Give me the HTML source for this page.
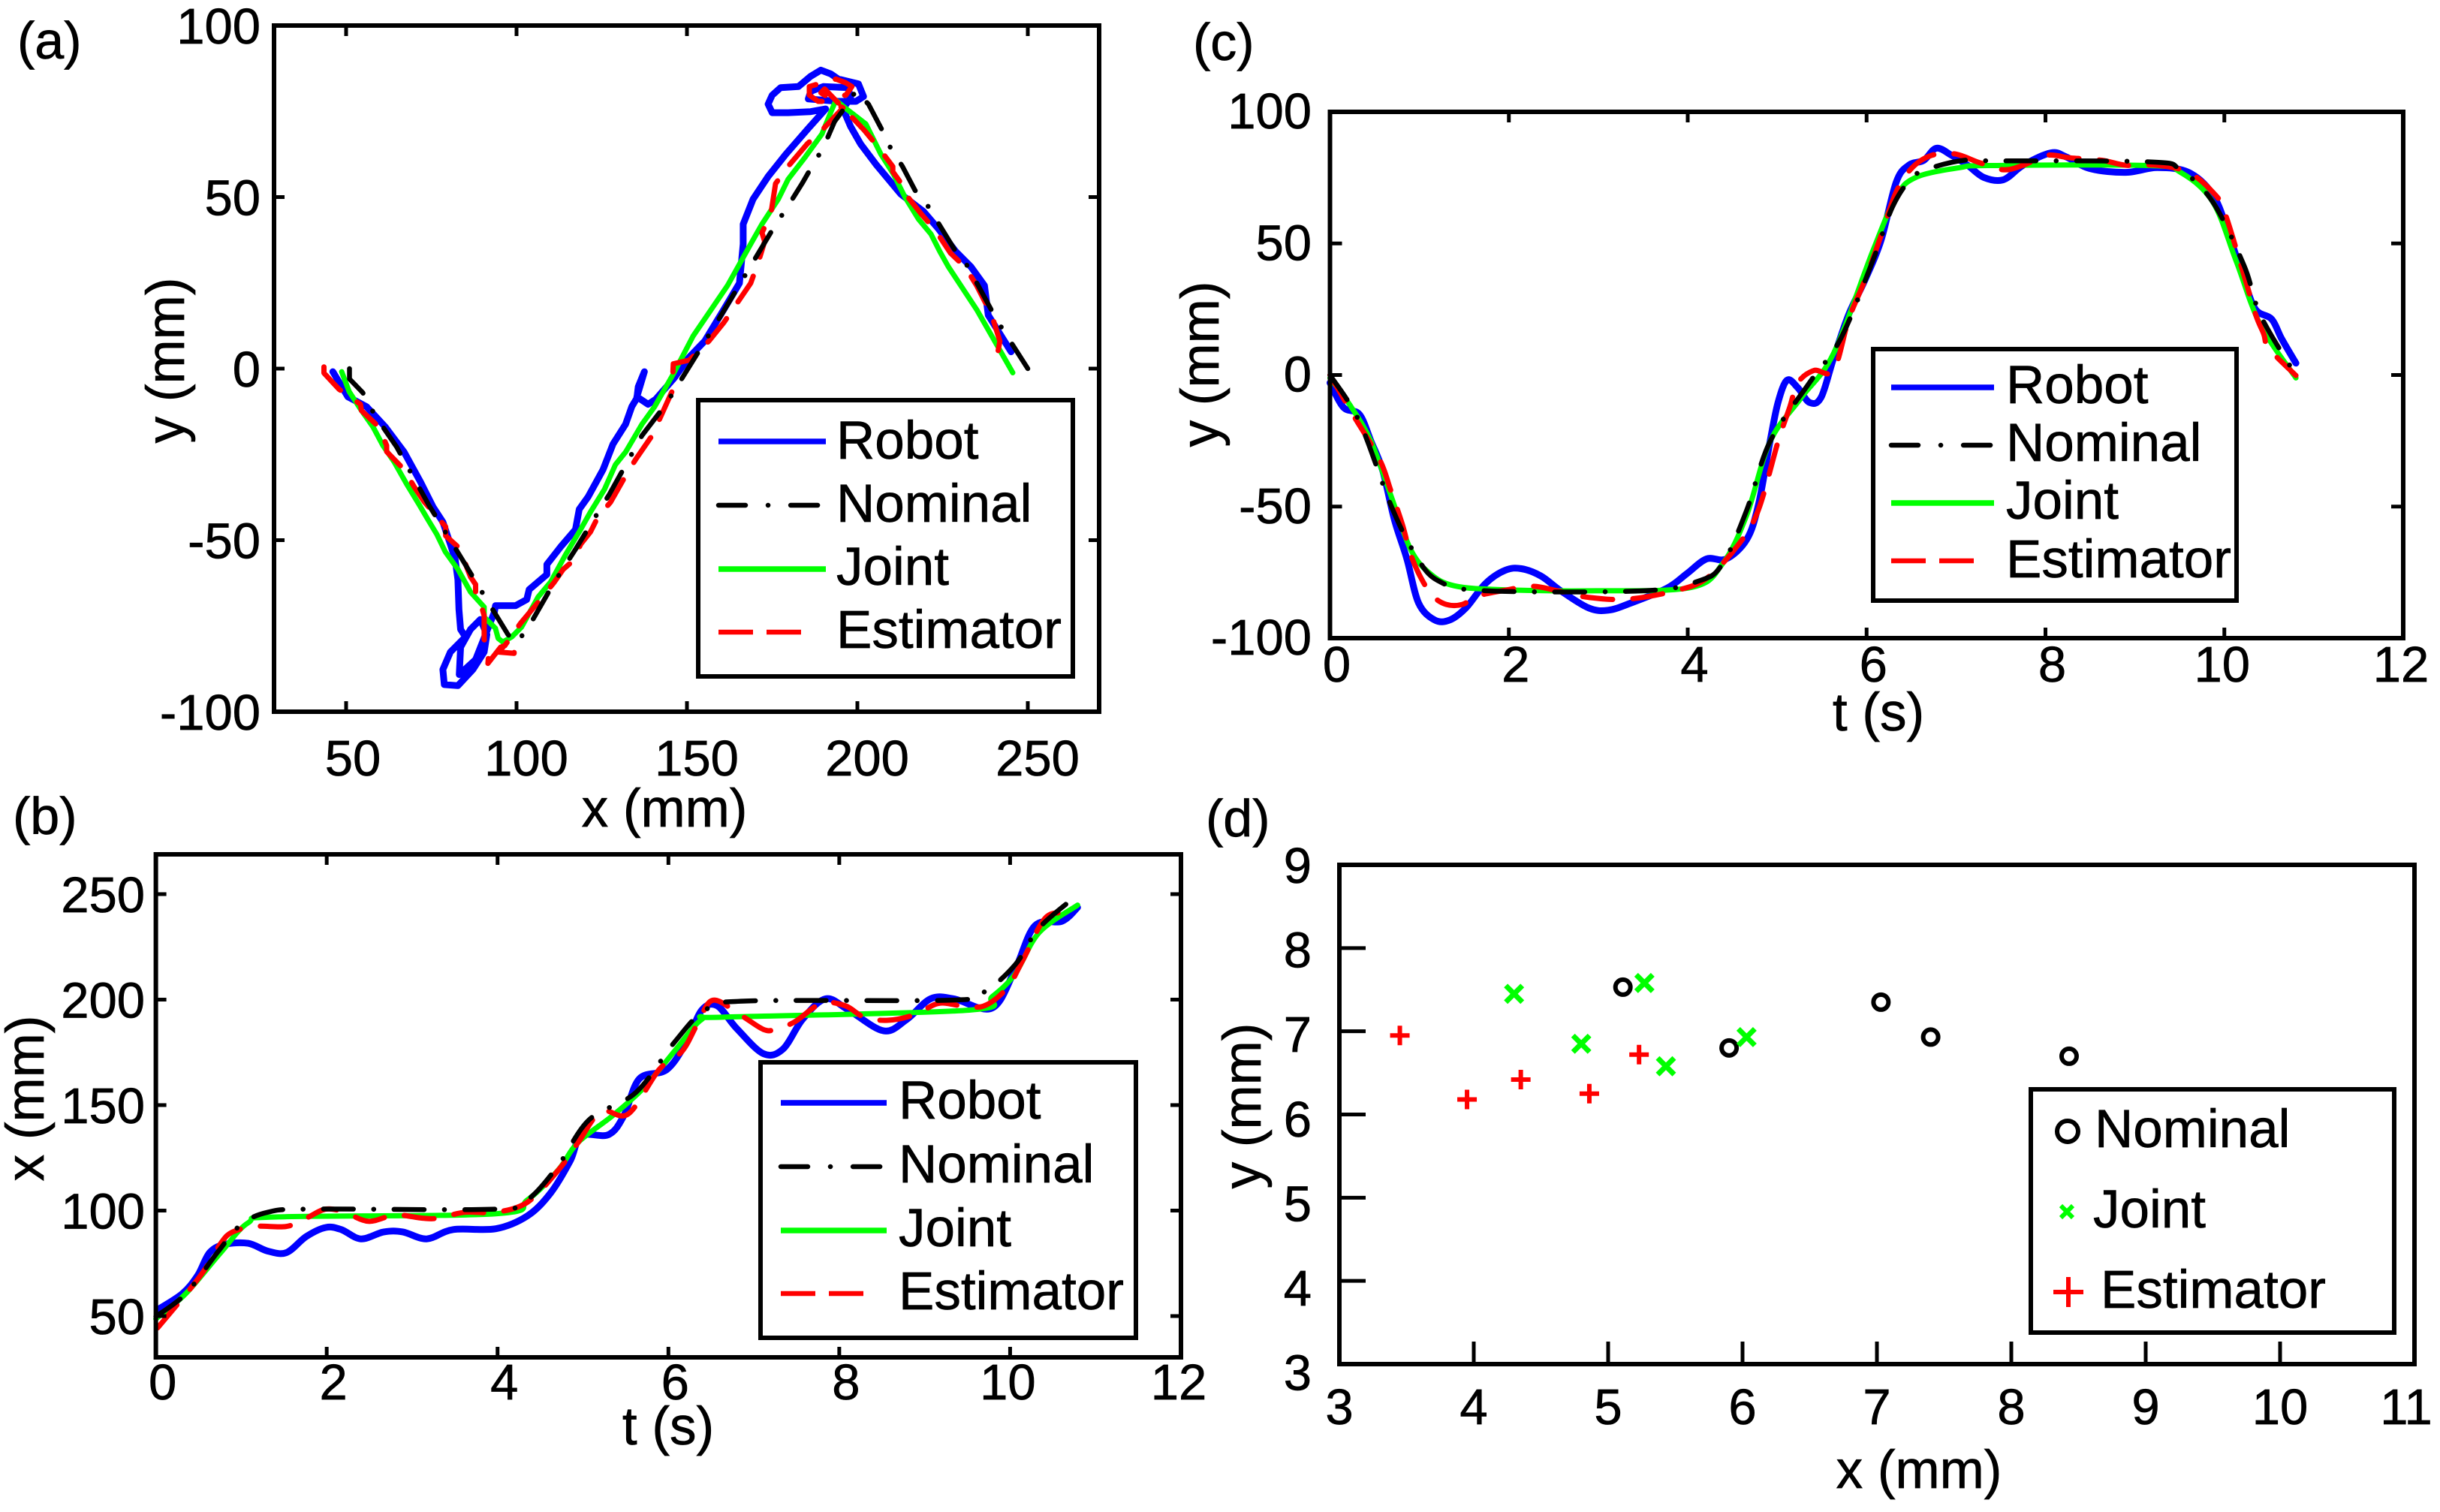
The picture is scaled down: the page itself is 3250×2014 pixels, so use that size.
<!DOCTYPE html>
<html lang="en">
<head>
<meta charset="utf-8">
<title>Robot trajectory tracking charts</title>
<style>
html,body{margin:0;padding:0;background:#fff;}
svg{display:block;}
text{font-family:"Liberation Sans",Arial,sans-serif;fill:#000;stroke:#000;stroke-width:0.7;}
.frame{fill:none;stroke:#000;stroke-width:6;}
.leg{fill:#fff;stroke:#000;stroke-width:6;}
.t{font-size:71px;}
.p{font-size:70px;}
.lr{stroke:#0000ff;stroke-width:7.5;fill:none;}
.ln{stroke:#000;stroke-width:6.5;fill:none;stroke-linecap:round;stroke-dasharray:36 30 0.1 30;}
.lj{stroke:#00ff00;stroke-width:7.5;fill:none;}
.le{stroke:#ff0000;stroke-width:6.5;fill:none;stroke-dasharray:46 18;}
</style>
</head>
<body>
<svg id="chart" xmlns="http://www.w3.org/2000/svg" width="3250" height="2014" viewBox="0 0 3250 2014">
<rect x="0" y="0" width="3250" height="2014" fill="#fff"/>

<text class="p" x="23" y="78">(a)</text>
<text class="p" x="17" y="1111">(b)</text>
<text class="p" x="1589" y="80">(c)</text>
<text class="p" x="1606" y="1114">(d)</text>

<g id="panel-a"></g>
<g id="panel-b"></g>
<g id="panel-c"></g>
<g id="panel-d"></g>

<text class="t" x="885" y="1101" text-anchor="middle">x (mm)</text>
<text class="t" transform="translate(245,480) rotate(-90)" text-anchor="middle">y (mm)</text>
<text class="t" x="890" y="1924" text-anchor="middle">t (s)</text>
<text class="t" transform="translate(58,1463) rotate(-90)" text-anchor="middle">x (mm)</text>
<text class="t" x="2502" y="973" text-anchor="middle">t (s)</text>
<text class="t" transform="translate(1623,485) rotate(-90)" text-anchor="middle">y (mm)</text>
<text class="t" x="2556" y="1982" text-anchor="middle">x (mm)</text>
<text class="t" transform="translate(1679,1473) rotate(-90)" text-anchor="middle">y (mm)</text>

<g>
  <rect class="leg" x="930" y="533" width="499" height="368"/>
  <line class="lr" x1="957" y1="588" x2="1100" y2="588"/>
  <text class="t" x="1114" y="611">Robot</text>
  <line class="ln" x1="957" y1="673" x2="1100" y2="673"/>
  <text class="t" x="1114" y="695">Nominal</text>
  <line class="lj" x1="957" y1="758" x2="1100" y2="758"/>
  <text class="t" x="1114" y="779">Joint</text>
  <line class="le" x1="957" y1="842" x2="1075" y2="842"/>
  <text class="t" x="1114" y="863">Estimator</text>
</g>

<g>
  <rect class="leg" x="1013" y="1415" width="500" height="367"/>
  <line class="lr" x1="1040" y1="1469" x2="1181" y2="1469"/>
  <text class="t" x="1197" y="1490">Robot</text>
  <line class="ln" x1="1040" y1="1554" x2="1181" y2="1554"/>
  <text class="t" x="1197" y="1575">Nominal</text>
  <line class="lj" x1="1040" y1="1639" x2="1181" y2="1639"/>
  <text class="t" x="1197" y="1660">Joint</text>
  <line class="le" x1="1040" y1="1723" x2="1158" y2="1723"/>
  <text class="t" x="1197" y="1744">Estimator</text>
</g>

<g>
  <rect class="leg" x="2495" y="465" width="484" height="335"/>
  <line class="lr" x1="2519" y1="516" x2="2656" y2="516"/>
  <text class="t" x="2672" y="537">Robot</text>
  <line class="ln" x1="2519" y1="593" x2="2656" y2="593"/>
  <text class="t" x="2672" y="614">Nominal</text>
  <line class="lj" x1="2519" y1="670" x2="2656" y2="670"/>
  <text class="t" x="2672" y="691">Joint</text>
  <line class="le" x1="2519" y1="747" x2="2637" y2="747"/>
  <text class="t" x="2672" y="769">Estimator</text>
</g>

<g>
  <rect class="leg" x="2705" y="1451" width="484" height="324"/>
  <circle cx="2754" cy="1507" r="14" fill="none" stroke="#000" stroke-width="6"/>
  <text class="t" x="2790" y="1528">Nominal</text>
  <path d="M2745 1606L2761 1622M2761 1606L2745 1622" fill="none" stroke="#00ff00" stroke-width="6"/>
  <text class="t" x="2788" y="1635">Joint</text>
  <path d="M2735 1721H2775M2755 1701V1741" fill="none" stroke="#ff0000" stroke-width="6"/>
  <text class="t" x="2798" y="1742">Estimator</text>
</g>
</svg>

<script>
// ---- Panel (a): y vs x trajectory ----
const aRobotX=[46.1,50.5,56,61.5,67,71.8,75.5,78.4,80.6,82,82.8,83.1,83.6,85,80.6,78.4,78.8,82.8,87.2,90.5,91.3,89.4,86.5,83.6,83.2,88,93.5,93.8,99.7,103,103.7,108.9,108.9,112.9,117.3,118.4,121,125.4,128.3,132,133.8,135.3,135.7,137.5,135.3,138.6,140.8,146.3,150.7,155.2,160.8,165.4,166.5,166.5,169.4,173.8,179,185.6,190.7,186.3,179.7,175,173.8,175,177.5,182.7,186.3,189.3,192.2,194.4,200.3,201.8,199.6,194.4,185.6,186.3,190,197.3,198,195.8,198,201,205.4,212.7,219.4,223.8,228.9,233.3,237.3,238.4,245.1];
const aRobotY=[-0.9,-8.2,-11.1,-17,-24.3,-33,-40.3,-44.7,-51.2,-55.6,-61.5,-70.2,-76,-78.2,-82.6,-87.7,-92.1,-92.4,-87.7,-82.6,-77.5,-73.1,-76,-81.2,-89.2,-84.8,-71,-69.1,-69.1,-67.3,-64.4,-60,-57.1,-52,-46.9,-41,-37.4,-29.4,-22,-16.2,-11.1,-8.6,-5.3,-0.9,-8.2,-10.4,-9,-2.7,3.4,8,17.2,24.9,36.3,42.1,49.4,56,62.5,70,75.7,74.9,74.6,74.6,77.1,79.7,81.9,82.2,85.2,87,85.9,84.4,83,79.3,77.9,77.9,78.6,80.8,82.2,81.9,79,75.7,70.6,65.4,59.6,50.9,45.8,40.7,34.1,29.7,24.2,15.6,4.9];
const aNominalX=[51,51,54.9,58.4,64.8,74.4,84.3,90.4,97.5,100,103.7,111,117.3,122,127.2,132.4,136.8,143.8,160,176,179.4,183.8,186.7,190,193.3,197,199.6,203.3,207,209.9,213.2,216.9,221,224,228.7,232.4,241,250];
const aNominalY=[0,-3,-7,-13.5,-22.8,-40,-56,-66,-77.5,-80,-75,-62.4,-52.7,-45,-36.7,-27.4,-19.5,-10.4,15.5,42,47,54,59,64.4,72,77,81,77,70,64,59,52,47,42,34.4,29.8,14,0];
const aJointX=[48.7,50.9,54.3,57.9,60.8,64.1,67.8,71.4,74,76.6,79.1,82.8,86.5,90.5,90.5,93.8,94.6,96,98.6,101.5,106.3,110,114.4,118.4,121.7,125.8,129,132,134.2,136.8,140.5,146,151.8,161.9,168.7,172,176.8,179.7,184.8,189.6,192.6,193.7,197.3,202.5,204.7,206.9,210.6,213.9,217.9,221.6,224.2,226.7,235,245.6];
const aJointY=[-0.9,-6.7,-11.9,-17,-22.4,-27.2,-33.7,-39.6,-44,-48.3,-53.4,-58.5,-65.1,-69.5,-72.4,-75.7,-78.6,-79.7,-78.2,-75.3,-66.6,-62.2,-54.2,-47.6,-41.8,-35.2,-28,-24.3,-20.6,-16.2,-11.1,-1.6,9.5,24.2,36.3,42.1,49.4,55.2,61.8,68.4,75.7,78.2,75.3,71.3,66.9,62.5,56.7,50.1,43.6,39.2,34.1,29.7,17.2,-1.2];
const aEstimatorX=[43.5,43.5,47.9,54.2,54.5,59.6,61.9,61.9,67,70,72.9,79.2,79.2,83.2,86.5,88,88,89,90.5,90.5,92,91.6,95.3,99.3,99.3,94.6,96.8,101.2,107,111.1,113.7,116.6,118.8,121.7,123.9,127.6,132,135,140,142.3,145.6,146,150.7,156.4,160.8,168.7,171,172.8,172,174.6,176,179.3,185.2,189.6,195.8,192.2,188.5,185.9,185.9,191,193.7,196.6,198.4,196.6,191.5,189.3,190.4,195.8,202,206,210.4,210.4,214.1,214.1,218.8,222.9,227.3,231.7,235,239.4,241.8,240.7,243];
const aEstimatorY=[0.5,-1.3,-6,-10.4,-12.2,-17,-22.4,-24.2,-29.4,-34.5,-38.8,-46.1,-48.7,-52.3,-60.7,-62.9,-65.8,-66.9,-72,-79,-81.2,-85.9,-81.2,-79.7,-83,-82.6,-80.4,-74.2,-67.3,-62.2,-58.5,-56,-51.2,-47.6,-43.2,-38.9,-31.2,-26.4,-19.2,-14,-6.7,1.4,2.5,8,13.4,24.9,31.2,37.1,39.6,45,53.9,58.5,65.4,69.5,76,77.9,77.9,79.7,82.2,83.7,84.4,83.3,82.2,79.7,79,80.4,81.5,76,69.5,64.7,58.9,57.4,52.3,50.9,45,40.3,33.7,29.5,24.2,15.6,8,1.9,1.6];
const aXTicks=[50,100,150,200,250];
const aYTicks=[100,50,0,-50,-100];

// ---- Panel (b): x vs t ----
const bRobotT=[0.02,0.31,0.49,0.63,0.81,1.08,1.31,1.53,1.76,1.99,2.17,2.4,2.67,2.89,3.17,3.48,3.98,4.35,4.62,4.85,4.98,5.3,5.48,5.66,5.98,6.21,6.39,6.57,6.8,7.11,7.34,7.57,7.84,8.11,8.52,8.79,9.07,9.34,9.79,10.06,10.29,10.61,10.79];
const bRobotV=[53,60.6,69.3,80.1,84,84.5,80.8,80.1,87.7,92,91,86.6,89.9,89.9,86.6,91,91.4,97.5,108.3,123.5,135.4,136,145.1,162.5,166.8,179.8,195,197.1,186.3,174.4,176.5,190.6,200.4,195,185.2,190.6,200.4,200.4,196,214.5,235,237.2,243.7];
const bNominalT=[0,0.35,0.72,0.99,1.31,1.81,3.99,4.35,4.71,5.07,5.62,6.07,6.43,6.88,9.34,9.7,10.06,10.34,10.79];
const bNominalV=[49.8,60.6,80.1,93.1,99.2,100.7,100.7,105.1,121.3,143,156,179.8,195,199.3,199.8,203.7,216.6,234,249.6];
const bJointT=[0,0.35,0.76,1.08,1.44,3.98,4.35,4.71,4.94,5.35,5.71,6.07,6.39,6.66,9.52,9.79,10.06,10.34,10.79];
const bJointV=[48.7,60.6,80.1,94.2,97,98.5,105.1,119.2,132.2,145.1,158.1,175.5,190.6,191.7,195,201.4,212.3,231.8,244.8];
const bEstimatorT=[0.02,0.4,0.58,0.76,0.9,1.17,1.53,1.76,1.99,2.21,2.49,2.8,3.12,3.3,3.62,3.98,4.35,4.71,4.94,5.21,5.53,5.89,6.16,6.34,6.52,6.84,7.11,7.25,7.48,7.79,8.07,8.29,8.57,8.88,9.16,9.43,9.7,9.97,10.15,10.43,10.74];
const bEstimatorV=[44.4,62.8,72.5,84.5,89.9,92.5,92.5,96.4,100.7,99.2,94.9,97.9,96.4,96.4,99.2,99.2,104,119.1,132.1,146.9,145.8,166.8,175.5,188.5,199.7,192.8,185.9,185.9,189.5,198.2,197.1,191.7,190.2,192.8,198.2,197.1,197.1,205.8,218.8,239.4,240];
const bXTicks=[0,2,4,6,8,10,12];
const bYTicks=[250,200,150,100,50];

// ---- Panel (c): y vs t ----
const cRobotT=[0,0.15,0.33,0.46,0.59,0.72,0.86,0.99,1.17,1.34,1.52,1.74,1.96,2.14,2.36,2.58,2.89,3.11,3.37,3.77,3.99,4.21,4.43,4.66,4.79,4.92,5.01,5.11,5.23,5.36,5.49,5.63,5.8,5.98,6.16,6.33,6.47,6.64,6.78,6.95,7.13,7.31,7.53,7.75,8.06,8.23,8.5,8.9,9.25,9.6,9.87,10.04,10.22,10.35,10.53,10.64,10.8];
const cRobotV=[-3,-12.3,-15,-25.3,-36.4,-55,-69.9,-86.6,-93.1,-93.1,-88.5,-79.2,-74.2,-73.6,-76.4,-82,-88.5,-89.4,-86.6,-81,-75.5,-69.9,-69.9,-62.5,-49.4,-25.3,-10.4,-2,-4.8,-10.4,-8.6,6.3,23,36,51,73.2,79.7,81.6,86.2,83.5,79.7,75.1,74.2,79.7,84.4,82.9,78.4,77,78.8,77,68.6,54.6,36,24.9,21.2,13.8,4.5];
const cNominalT=[0,0.33,0.68,0.95,1.21,1.74,3.51,4.13,4.39,4.66,4.92,5.36,5.71,6.07,6.29,6.51,6.73,7.09,7.39,9.16,9.51,9.87,10.22,10.4,10.75];
const cNominalV=[0,-17.8,-49.4,-68,-78.2,-82,-82,-78.2,-71.7,-51.3,-25.3,-3,13.8,43.5,63.9,75.1,78.8,81.6,81.4,81,77.9,65.8,41.6,23,2.6];
const cJointT=[0,0.24,0.46,0.68,0.9,1.12,1.39,1.92,2.98,4.04,4.39,4.66,4.92,5.27,5.63,6.07,6.33,6.55,7.04,7.39,9.16,9.51,9.87,10.13,10.4,10.8];
const cJointV=[-1.1,-12.3,-25.3,-45.7,-66.2,-75.5,-80.1,-81.6,-82,-80.7,-71.7,-53.2,-25.3,-8.6,8.2,47.2,67.7,75.1,78.8,79.6,79.6,77,65.8,43.5,19.3,-1.1];
const cEstimatorT=[0,0.24,0.55,0.68,0.81,0.9,1.02,1.15,1.3,1.48,1.65,1.96,2.27,2.54,2.89,3.33,3.86,4.21,4.57,4.79,5.01,5.14,5.23,5.41,5.63,5.8,5.98,6.16,6.33,6.51,6.73,6.99,7.26,7.53,7.75,8.02,8.28,8.63,8.9,9.25,9.6,9.87,10,10.22,10.35,10.44,10.5,10.8];
const cEstimatorV=[0,-14.1,-31.8,-43.9,-56.9,-68,-77.3,-84,-87.2,-87.2,-84,-81.8,-80.3,-82,-84.5,-85.2,-82,-77.3,-64.3,-51.3,-25.3,-12.3,-3,1.7,1.7,21.2,36,52.8,69.5,78.8,83.5,84,80.7,78,79.7,83.5,82.5,81.6,79.7,79.7,77,69.5,62.1,37.9,23,15.6,10,-0.2];
const cXTicks=[0,2,4,6,8,10,12];
const cYTicks=[100,50,0,-50,-100];

// ---- Panel (d): final position scatter ----
const dNominalX=[5.11,5.9,7.03,7.4,8.43];
const dNominalY=[7.53,6.8,7.35,6.93,6.7];
const dJointX=[4.3,5.27,4.8,6.03,5.43];
const dJointY=[7.45,7.58,6.85,6.93,6.58];
const dEstimatorX=[3.45,3.95,4.35,4.86,5.23];
const dEstimatorY=[6.95,6.18,6.42,6.25,6.72];
const dXTicks=[3,4,5,6,7,8,9,10,11];
const dYTicks=[9,8,7,6,5,4,3];

const SVGNS='http://www.w3.org/2000/svg';
function linear(d0,d1,p0,p1){return function(v){return p0+(v-d0)*(p1-p0)/(d1-d0);};}
function make(parent,tag){const el=document.createElementNS(SVGNS,tag);parent.appendChild(el);return el;}
function tickNudge(s){return s.length===1?9:(s.length===2?(s==='50'?9:-3):13);}

function drawFrame(g,key,box){
  const r=make(g,'rect');
  
  
  r.setAttribute('class','frame');
  r.setAttribute('x',box.l);r.setAttribute('y',box.t);
  r.setAttribute('width',box.r-box.l);r.setAttribute('height',box.b-box.t);
}

function drawTickMark(g,x1,y1,x2,y2){
  const l=make(g,'line');
  
  
  l.setAttribute('x1',x1);l.setAttribute('y1',y1);l.setAttribute('x2',x2);l.setAttribute('y2',y2);
  l.setAttribute('stroke','#000');l.setAttribute('stroke-width',5);
}

function drawXTicks(g,ticks,sx,box,base,len,mirror,nudge){
  ticks.forEach(function(v){
    const x=sx(v);
    if(x>box.l+3&&x<box.r-3){
      drawTickMark(g,x,box.b,x,box.b-len);
      if(mirror){drawTickMark(g,x,box.t,x,box.t+len);}
    }
    const t=make(g,'text');
    
    
    t.setAttribute('x',x+nudge(String(v)));
    t.setAttribute('y',base);
    t.setAttribute('text-anchor','middle');
    t.setAttribute('font-size','67');
    t.textContent=String(v);
  });
}

function drawYTicks(g,ticks,sy,box,right,labelY,len,mirror){
  ticks.forEach(function(v){
    const y=sy(v);
    if(y>box.t+3&&y<box.b-3){
      drawTickMark(g,box.l,y,box.l+len,y);
      if(mirror){drawTickMark(g,box.r,y,box.r-len,y);}
    }
    const t=make(g,'text');
    
    
    t.setAttribute('x',right);
    t.setAttribute('y',labelY(v,y));
    t.setAttribute('text-anchor','end');
    t.setAttribute('font-size','67');
    t.textContent=String(v);
  });
}

function drawLine(g,name,xs,ys,sx,sy,color,width,dash){
  const p=make(g,'polyline');
  
  
  p.setAttribute('points',xs.map(function(v,i){return sx(v).toFixed(1)+','+sy(ys[i]).toFixed(1);}).join(' '));
  p.setAttribute('fill','none');
  p.setAttribute('stroke',color);
  p.setAttribute('stroke-width',width);
  p.setAttribute('stroke-linejoin','round');
  p.setAttribute('stroke-linecap','round');
  if(dash){p.setAttribute('stroke-dasharray',dash);}
}

// Smooth Catmull-Rom curve through the mapped data points, for the time series.
function drawCurve(g,name,xs,ys,sx,sy,color,width,dash){
  const pts=xs.map(function(v,i){return [sx(v),sy(ys[i])];});
  let d='M'+pts[0][0].toFixed(1)+' '+pts[0][1].toFixed(1);
  for(let i=0;i<pts.length-1;i++){
    const p0=pts[i>0?i-1:i],p1=pts[i],p2=pts[i+1],p3=pts[i+2<pts.length?i+2:i+1];
    const c1x=p1[0]+(p2[0]-p0[0])/6,c1y=p1[1]+(p2[1]-p0[1])/6;
    const c2x=p2[0]-(p3[0]-p1[0])/6,c2y=p2[1]-(p3[1]-p1[1])/6;
    d+='C'+c1x.toFixed(1)+' '+c1y.toFixed(1)+' '+c2x.toFixed(1)+' '+c2y.toFixed(1)+' '+p2[0].toFixed(1)+' '+p2[1].toFixed(1);
  }
  const p=make(g,'path');
  
  
  p.setAttribute('d',d);
  p.setAttribute('fill','none');
  p.setAttribute('stroke',color);
  p.setAttribute('stroke-width',width);
  p.setAttribute('stroke-linejoin','round');
  p.setAttribute('stroke-linecap','round');
  if(dash){p.setAttribute('stroke-dasharray',dash);}
}

const NOMINAL_DASH='40 27 0.1 27';
const ESTIMATOR_DASH='40 27';

// Panel a
(function(){
  const g=document.getElementById('panel-a');
  const box={l:365,r:1464,t:34,b:948};
  const sx=linear(50,250,461,1369);
  const sy=linear(100,-100,34,948);
  drawLine(g,'robot-path-a',aRobotX,aRobotY,sx,sy,'#0000ff',9,null);
  drawLine(g,'joint-path-a',aJointX,aJointY,sx,sy,'#00ff00',7,null);
  drawLine(g,'estimator-path-a',aEstimatorX,aEstimatorY,sx,sy,'#ff0000',7,ESTIMATOR_DASH);
  drawLine(g,'nominal-path-a',aNominalX,aNominalY,sx,sy,'#000000',6.5,NOMINAL_DASH);
  drawFrame(g,'a',box);
  drawXTicks(g,aXTicks,sx,box,1033,14,true,tickNudge);
  drawYTicks(g,aYTicks,sy,box,347,function(v,y){return y+24;},14,true);
})();

// Panel b
(function(){
  const g=document.getElementById('panel-b');
  const box={l:207.6,r:1573,t:1138,b:1808};
  const sx=linear(0,12,207.6,1573);
  const sy=linear(250,50,1191,1753);
  drawCurve(g,'robot-curve-b',bRobotT,bRobotV,sx,sy,'#0000ff',9,null);
  drawCurve(g,'joint-curve-b',bJointT,bJointV,sx,sy,'#00ff00',7,null);
  drawCurve(g,'estimator-curve-b',bEstimatorT,bEstimatorV,sx,sy,'#ff0000',7,ESTIMATOR_DASH);
  drawCurve(g,'nominal-curve-b',bNominalT,bNominalV,sx,sy,'#000000',6.5,NOMINAL_DASH);
  drawFrame(g,'b',box);
  drawXTicks(g,bXTicks,sx,box,1864,14,true,tickNudge);
  drawYTicks(g,bYTicks,sy,box,193,function(v,y){return y+24;},14,true);
})();

// Panel c
(function(){
  const g=document.getElementById('panel-c');
  const box={l:1771.5,r:3201,t:149,b:850};
  const sx=linear(0,12,1771.5,3201);
  const sy=linear(100,-100,149,850);
  drawCurve(g,'robot-curve-c',cRobotT,cRobotV,sx,sy,'#0000ff',9,null);
  drawCurve(g,'joint-curve-c',cJointT,cJointV,sx,sy,'#00ff00',7,null);
  drawCurve(g,'estimator-curve-c',cEstimatorT,cEstimatorV,sx,sy,'#ff0000',7,ESTIMATOR_DASH);
  drawCurve(g,'nominal-curve-c',cNominalT,cNominalV,sx,sy,'#000000',6.5,NOMINAL_DASH);
  drawFrame(g,'c',box);
  drawXTicks(g,cXTicks,sx,box,908,14,true,tickNudge);
  drawYTicks(g,cYTicks,sy,box,1747,function(v,y){return y+22;},16,true);
})();

// Panel d
(function(){
  const g=document.getElementById('panel-d');
  const box={l:1784,r:3216,t:1152,b:1817};
  const sx=linear(3,11,1784,3216);
  const sy=linear(9,3,1152,1817);
  drawFrame(g,'d',box);
  drawXTicks(g,dXTicks,sx,box,1897,30,false,function(s){return s==='11'?-11:0;});
  drawYTicks(g,dYTicks,sy,box,1747,function(v,y){return 1176+(9-v)*112.6;},35,false);
  dNominalX.forEach(function(v,i){
    const c=make(g,'circle');
    
    
    c.setAttribute('cx',sx(v));c.setAttribute('cy',sy(dNominalY[i]));c.setAttribute('r',10);
    c.setAttribute('fill','none');c.setAttribute('stroke','#000');c.setAttribute('stroke-width',6);
  });
  dJointX.forEach(function(v,i){
    const x=sx(v),y=sy(dJointY[i]),r=11;
    const m=make(g,'path');
    
    
    m.setAttribute('d','M'+(x-r)+' '+(y-r)+'L'+(x+r)+' '+(y+r)+'M'+(x+r)+' '+(y-r)+'L'+(x-r)+' '+(y+r));
    m.setAttribute('fill','none');m.setAttribute('stroke','#00ff00');m.setAttribute('stroke-width',7);
  });
  dEstimatorX.forEach(function(v,i){
    const x=sx(v),y=sy(dEstimatorY[i]),r=13;
    const m=make(g,'path');
    
    
    m.setAttribute('d','M'+(x-r)+' '+y+'H'+(x+r)+'M'+x+' '+(y-r)+'V'+(y+r));
    m.setAttribute('fill','none');m.setAttribute('stroke','#ff0000');m.setAttribute('stroke-width',6);
  });
})();
</script>
</body>
</html>
